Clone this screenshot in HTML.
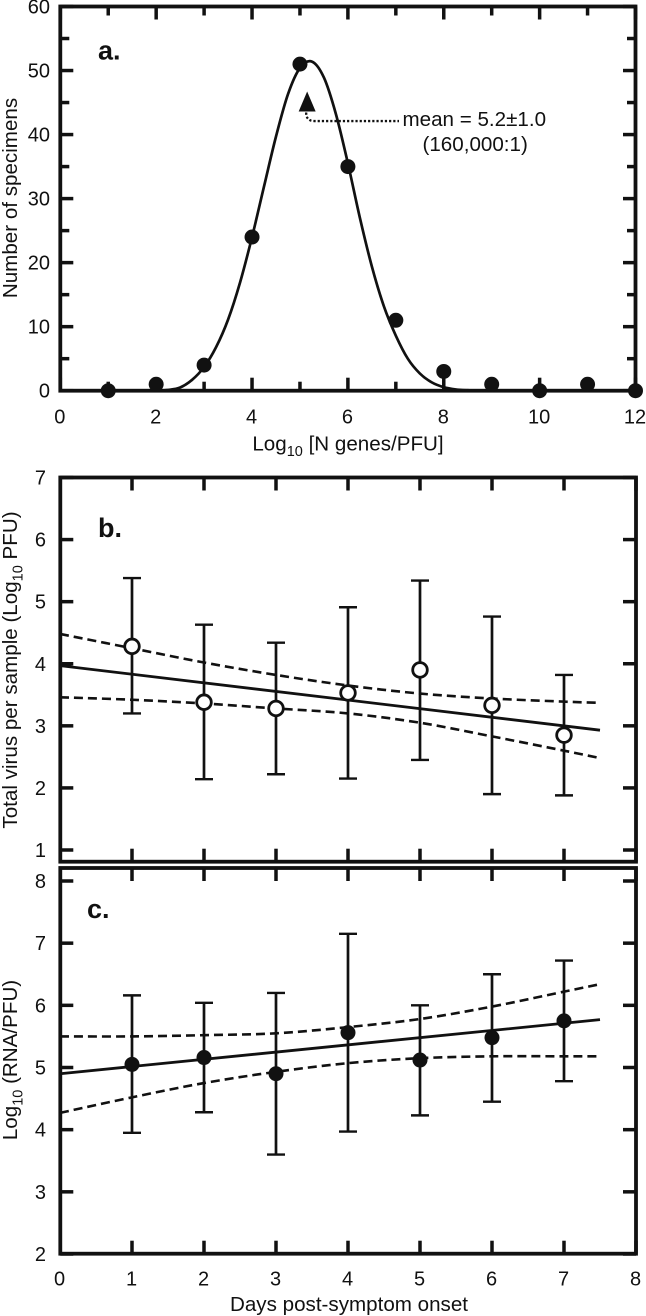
<!DOCTYPE html>
<html lang="en">
<head>
<meta charset="utf-8">
<title>Panels a, b and c</title>
<style>
html,body{margin:0;padding:0;background:#fff;width:646px;height:1316px;overflow:hidden}
svg{display:block}
text{font-family:"Liberation Sans",sans-serif;fill:#111}
</style>
</head>
<body>
<svg id="chart" xmlns="http://www.w3.org/2000/svg" width="646" height="1316" viewBox="0 0 646 1316"></svg>
<script>
// Panel a data
const aBins = [1,2,3,4,5,6,7,8,9,10,11,12];
const aCounts = [0,1,4,24,51,35,11,3,1,0,1,0];
const aCurveX = [1.5,1.75,2,2.25,2.5,2.75,3,3.25,3.5,3.75,4,4.25,4.5,4.75,5,5.25,5.5,5.75,6,6.25,6.5,6.75,7,7.25,7.5,7.75,8,8.25,8.5,8.75,9,9.5];
const aCurveY = [0,0,0.02,0.12,0.5,1.7,3.7,6.8,11.1,16.9,24,31.9,39.7,46.3,50.4,51.4,48.9,43.2,35.5,27,19.4,13.2,8.6,5,2.7,1.3,0.55,0.2,0.07,0.02,0,0];
const aXTickLabels = [0,2,4,6,8,10,12];
const aYTickLabels = [0,10,20,30,40,50,60];
const aMeanMarker = [5.15,45];

// Panel b data
const bDays = [1,2,3,4,5,6,7];
const bMeans = [4.28,3.38,3.28,3.53,3.9,3.33,2.85];
const bLow = [3.2,2.14,2.22,2.15,2.45,1.9,1.88];
const bHigh = [5.38,4.63,4.34,4.91,5.34,4.76,3.82];
const bFitX = [0,7.5];
const bFitY = [3.97,2.93];
const bBandX = [0,1,2,3,4,5,6,7,7.5];
const bUpper = [4.48,4.25,4.02,3.82,3.65,3.52,3.44,3.39,3.37];
const bLower = [3.46,3.42,3.36,3.28,3.2,3.05,2.83,2.6,2.48];
const bYTickLabels = [1,2,3,4,5,6,7];

// Panel c data
const cDays = [1,2,3,4,5,6,7];
const cMeans = [5.05,5.16,4.9,5.56,5.12,5.48,5.75];
const cLow = [3.95,4.28,3.6,3.97,4.23,4.45,4.78];
const cHigh = [6.16,6.04,6.2,7.15,6.0,6.5,6.72];
const cFitX = [0,7.5];
const cFitY = [4.9,5.77];
const cBandX = [0,1,2,3,4,5,6,7,7.5];
const cUpper = [5.5,5.5,5.52,5.55,5.65,5.78,5.98,6.22,6.34];
const cLower = [4.27,4.52,4.75,4.93,5.07,5.15,5.18,5.18,5.18];
const cYTickLabels = [2,3,4,5,6,7,8];
const dayTickLabels = [0,1,2,3,4,5,6,7,8];

const INK = '#111';
const NS = 'http://www.w3.org/2000/svg';
const svg = document.getElementById('chart');

function scale(d0, d1, p0, p1) {
  return v => p0 + (v - d0) * (p1 - p0) / (d1 - d0);
}
function line(parent, x1, y1, x2, y2, w, name) {
  const el = document.createElementNS(NS, 'line');
  el.setAttribute('x1', x1);
  el.setAttribute('y1', y1);
  el.setAttribute('x2', x2);
  el.setAttribute('y2', y2);
  el.setAttribute('stroke', INK);
  el.setAttribute('stroke-width', w);
  
  
  parent.appendChild(el);
  return el;
}
function label(parent, x, y, str, size, anchor, name, weight) {
  const el = document.createElementNS(NS, 'text');
  el.setAttribute('x', x);
  el.setAttribute('y', y);
  el.setAttribute('font-size', size);
  el.setAttribute('text-anchor', anchor);
  if (weight) el.setAttribute('font-weight', weight);
  el.textContent = str;
  
  
  parent.appendChild(el);
  return el;
}
function group(name) {
  const g = document.createElementNS(NS, 'g');
  
  
  svg.appendChild(g);
  return g;
}
function dot(parent, x, y, r, open, name) {
  const el = document.createElementNS(NS, 'circle');
  el.setAttribute('cx', x);
  el.setAttribute('cy', y);
  el.setAttribute('r', r);
  el.setAttribute('fill', open ? '#fff' : INK);
  if (open) {
    el.setAttribute('stroke', INK);
    el.setAttribute('stroke-width', 2.8);
  }
  
  
  parent.appendChild(el);
}
function smoothPath(xs, ys, sx, sy) {
  const p = xs.map((x, i) => [sx(x), sy(ys[i])]);
  let d = 'M' + p[0][0] + ' ' + p[0][1];
  for (let i = 0; i < p.length - 1; i++) {
    const a = p[Math.max(i - 1, 0)], b = p[i], c = p[i + 1], e = p[Math.min(i + 2, p.length - 1)];
    d += ' C' + (b[0] + (c[0] - a[0]) / 6) + ' ' + (b[1] + (c[1] - a[1]) / 6) + ' ' +
         (c[0] - (e[0] - b[0]) / 6) + ' ' + (c[1] - (e[1] - b[1]) / 6) + ' ' + c[0] + ' ' + c[1];
  }
  return d;
}
function curve(parent, xs, ys, sx, sy, w, dash, name) {
  const el = document.createElementNS(NS, 'path');
  el.setAttribute('d', smoothPath(xs, ys, sx, sy));
  el.setAttribute('fill', 'none');
  el.setAttribute('stroke', INK);
  el.setAttribute('stroke-width', w);
  if (dash) el.setAttribute('stroke-dasharray', dash);
  
  
  parent.appendChild(el);
}
function frame(parent, L, T, R, B) {
  const el = document.createElementNS(NS, 'rect');
  el.setAttribute('x', L);
  el.setAttribute('y', T);
  el.setAttribute('width', R - L);
  el.setAttribute('height', B - T);
  el.setAttribute('fill', 'none');
  el.setAttribute('stroke', INK);
  el.setAttribute('stroke-width', 3.8);
  
  
  parent.appendChild(el);
}
function fillParts(el, parts) {
  let back = false;
  parts.forEach(pt => {
    const t = document.createElementNS(NS, 'tspan');
    if (pt.sub) {
      t.setAttribute('font-size', 14.5);
      t.setAttribute('dy', 5.5);
      back = true;
    } else if (back) {
      t.setAttribute('dy', -5.5);
      back = false;
    }
    t.textContent = pt.s;
    el.appendChild(t);
  });
}
function yTitle(parent, cy, parts, name) {
  const el = document.createElementNS(NS, 'text');
  el.setAttribute('transform', 'translate(17,' + cy + ') rotate(-90)');
  el.setAttribute('font-size', 20.6);
  el.setAttribute('text-anchor', 'middle');
  fillParts(el, parts);
  
  
  parent.appendChild(el);
}
function xTitle(parent, cx, y, parts, name) {
  const el = document.createElementNS(NS, 'text');
  el.setAttribute('x', cx);
  el.setAttribute('y', y);
  el.setAttribute('font-size', 20.6);
  el.setAttribute('text-anchor', 'middle');
  fillParts(el, parts);
  
  
  parent.appendChild(el);
}

const L = 60.3, R = 636;
const MAJOR = 13, MINOR = 9, TICK_W = 3.5, TICK_FONT = 20;

/* ---------- Panel a ---------- */
(function () {
  const g = group('panel-a');
  const T = 6.5, B = 390.7;
  const sx = scale(0, 12, L, R - 0.5);
  const sy = scale(0, 60, B, T);
  frame(g, L, T, R - 0.5, B);
  for (let v = 0; v <= 12; v++) {
    const len = v % 2 === 0 ? MAJOR : MINOR;
    line(g, sx(v), B, sx(v), B - len, TICK_W, 'x-tick-bottom');
    line(g, sx(v), T, sx(v), T + len, TICK_W, 'x-tick-top');
  }
  for (let v = 0; v <= 60; v += 5) {
    const len = v % 10 === 0 ? MAJOR : MINOR;
    line(g, L, sy(v), L + len, sy(v), TICK_W, 'y-tick-left');
    line(g, R, sy(v), R - len, sy(v), TICK_W, 'y-tick-right');
  }
  aXTickLabels.forEach(v => label(g, sx(v) - 0.5, 423.5, String(v), TICK_FONT, 'middle', 'x-tick-label'));
  aYTickLabels.forEach(v => label(g, 50, sy(v) + 7, String(v), TICK_FONT, 'end', 'y-tick-label'));
  yTitle(g, 198, [{s:'Number of specimens'}], 'y-axis-title');
  xTitle(g, 348, 450.7, [{s:'Log'},{s:'10',sub:true},{s:' [N genes/PFU]'}], 'x-axis-title');
  label(g, 98, 59.5, 'a.', 27, 'start', 'panel-label-a', 'bold');
  curve(g, aCurveX, aCurveY, sx, sy, 2.7, null, 'gaussian-fit-curve');
  aBins.forEach((b, i) => dot(g, sx(b), sy(aCounts[i]), 7.5, false, 'specimen-count-point'));

  const mx = sx(aMeanMarker[0]), my = sy(aMeanMarker[1]);
  const tri = document.createElementNS(NS, 'polygon');
  tri.setAttribute('points', (mx) + ',' + (my - 11) + ' ' + (mx + 8.5) + ',' + (my + 9) + ' ' + (mx - 8.5) + ',' + (my + 9));
  tri.setAttribute('fill', INK);
  
  
  g.appendChild(tri);
  const lead = document.createElementNS(NS, 'path');
  lead.setAttribute('d', 'M' + (mx - 1) + ' ' + (my + 10) + ' Q' + (mx - 1) + ' ' + (my + 18.5) + ' ' + (mx + 7) + ' ' + (my + 18.5) + ' L399 ' + (my + 18.5));
  lead.setAttribute('fill', 'none');
  lead.setAttribute('stroke', INK);
  lead.setAttribute('stroke-width', 2.3);
  lead.setAttribute('stroke-dasharray', '2.2 2');
  
  
  g.appendChild(lead);
  label(g, 402.5, 126, 'mean = 5.2\u00b11.0', 20.6, 'start', 'mean-annotation');
  label(g, 422.5, 151, '(160,000:1)', 20.6, 'start', 'ratio-annotation');
})();

/* ---------- Panels b and c ---------- */
function timePanel(cfg) {
  const g = group(cfg.name);
  const sx = scale(0, 8, 60, R);
  const sy = scale(cfg.yMin, cfg.yMax, cfg.yMinPx, cfg.yMaxPx);
  frame(g, L, cfg.T, R, cfg.B);
  for (let v = 1; v <= 8; v++) {
    line(g, sx(v), cfg.B, sx(v), cfg.B - MAJOR, TICK_W, 'x-tick-bottom');
    line(g, sx(v), cfg.T, sx(v), cfg.T + MAJOR, TICK_W, 'x-tick-top');
  }
  cfg.yTicks.forEach(v => {
    line(g, L, sy(v), L + MAJOR, sy(v), TICK_W, 'y-tick-left');
    line(g, R, sy(v), R - MAJOR, sy(v), TICK_W, 'y-tick-right');
    label(g, 46, sy(v) + 7, String(v), TICK_FONT, 'end', 'y-tick-label');
  });
  yTitle(g, cfg.titleY, cfg.title, 'y-axis-title');
  label(g, cfg.labelX, cfg.labelY, cfg.label, 27, 'start', 'panel-label', 'bold');
  curve(g, cfg.bandX, cfg.upper, sx, sy, 2.6, '9 5', 'upper-confidence-band');
  curve(g, cfg.bandX, cfg.lower, sx, sy, 2.6, '9 5', 'lower-confidence-band');
  curve(g, cfg.fitX, cfg.fitY, sx, sy, 2.8, null, 'regression-line');
  cfg.days.forEach((d, i) => {
    const x = sx(d);
    line(g, x, sy(cfg.low[i]), x, sy(cfg.high[i]), 2.7, 'error-bar-stem');
    line(g, x - 9, sy(cfg.low[i]), x + 9, sy(cfg.low[i]), 2.4, 'error-bar-cap-low');
    line(g, x - 9, sy(cfg.high[i]), x + 9, sy(cfg.high[i]), 2.4, 'error-bar-cap-high');
    dot(g, x, sy(cfg.means[i]), cfg.open ? 7.3 : 7.5, cfg.open, 'mean-point');
  });
  return { g, sx };
}
timePanel({
  name: 'panel-b', T: 477.5, B: 861.7, yMin: 1, yMax: 7, yMinPx: 850, yMaxPx: 477.5,
  yTicks: bYTickLabels, days: bDays, means: bMeans, low: bLow, high: bHigh,
  fitX: bFitX, fitY: bFitY, bandX: bBandX, upper: bUpper, lower: bLower, open: true,
  title: [{s:'Total virus per sample (Log'},{s:'10',sub:true},{s:' PFU)'}], titleY: 670,
  label: 'b.', labelX: 98, labelY: 537
});
const panelC = timePanel({
  name: 'panel-c', T: 868, B: 1253.7, yMin: 2, yMax: 8, yMinPx: 1254, yMaxPx: 881,
  yTicks: cYTickLabels, days: cDays, means: cMeans, low: cLow, high: cHigh,
  fitX: cFitX, fitY: cFitY, bandX: cBandX, upper: cUpper, lower: cLower, open: false,
  title: [{s:'Log'},{s:'10',sub:true},{s:' (RNA/PFU)'}], titleY: 1060,
  label: 'c.', labelX: 87, labelY: 918
});
dayTickLabels.forEach(v => label(panelC.g, panelC.sx(v) - 0.5, 1285.7, String(v), TICK_FONT, 'middle', 'x-tick-label'));
xTitle(panelC.g, 349, 1311, [{s:'Days post-symptom onset'}], 'x-axis-title');
</script>
</body>
</html>
